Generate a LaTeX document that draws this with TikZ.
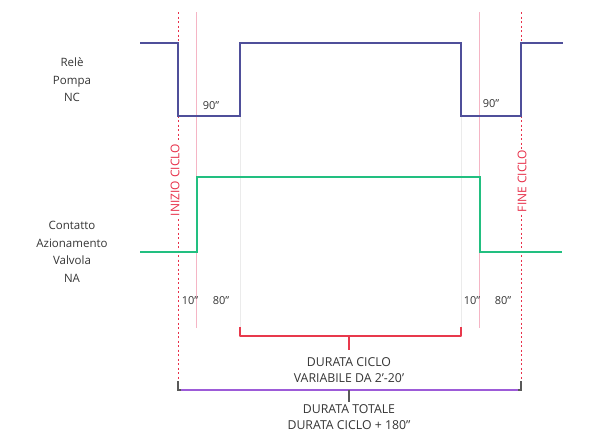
\documentclass[tikz,border=0pt]{standalone}
\usepackage{fontspec}
\setmainfont{Open Sans}
\definecolor{relay}{HTML}{4F4F9A}
\definecolor{valve}{HTML}{22BF80}
\definecolor{redb}{HTML}{E8394C}
\definecolor{purp}{HTML}{9D5BD8}
\definecolor{reddot}{HTML}{E8304A}
\definecolor{pinkl}{HTML}{F5B5C5}
\definecolor{txt}{HTML}{353535}
\begin{document}
\begin{tikzpicture}[x=1pt,y=-1pt,
  sig/.style={line width=1.3pt,color=relay},
  valv/.style={line width=2.2pt,color=valve},
  mark line/.style={reddot,line width=1pt,dash pattern=on 2pt off 2.5pt},
  guide/.style={pinkl,line width=0.8pt},
  faint/.style={black!8,line width=0.6pt},
  lbl/.style={font=\fontsize{11.5}{17.5}\selectfont,text=txt,align=center},
  small/.style={font=\fontsize{11}{12}\selectfont,text=txt},
  vlbl/.style={font=\fontsize{12}{13}\selectfont,text=reddot,rotate=90,fill=white,inner sep=1pt},
  bracketred/.style={redb,line width=2.2pt},
  bracketpur/.style={purp,line width=2.2pt},
  tick/.style={black!65,line width=1.2pt},
  btxt/.style={font=\fontsize{12.3}{16}\selectfont,text=txt,align=center}]
\useasboundingbox (0,0) rectangle (599,434);
% guide lines
\coordinate (g1t) at (196,12); \coordinate (g1b) at (196,328);
\coordinate (g2t) at (479,12); \coordinate (g2b) at (479,328);
\coordinate (f1t) at (240,43); \coordinate (f1b) at (240,330);
\coordinate (f2t) at (461,43); \coordinate (f2b) at (461,330);
\draw[faint] (f1t) -- (f1b);
\draw[faint] (f2t) -- (f2b);
\draw[guide] (g1t) -- (g1b);
\draw[guide] (g2t) -- (g2b);
% red dotted markers
\coordinate (m1t) at (178,12); \coordinate (m1b) at (178,390);
\coordinate (m2t) at (521,12); \coordinate (m2b) at (521,390);
\draw[mark line] (m1t) -- (m1b);
\draw[mark line] (m2t) -- (m2b);
% relay signal
\coordinate (r0) at (140,43);
\coordinate (r1) at (178,43);
\coordinate (r2) at (178,116);
\coordinate (r3) at (240,116);
\coordinate (r4) at (240,43);
\coordinate (r5) at (461,43);
\coordinate (r6) at (461,116);
\coordinate (r7) at (521,116);
\coordinate (r8) at (521,43);
\coordinate (r9) at (563,43);
\draw[sig] (r0) -- (r1) -- (r2) -- (r3) -- (r4) -- (r5) -- (r6) -- (r7) -- (r8) -- (r9);
% valve signal
\coordinate (v0) at (140,252);
\coordinate (v1) at (197,252);
\coordinate (v2) at (197,177);
\coordinate (v3) at (480,177);
\coordinate (v4) at (480,252);
\coordinate (v5) at (562,252);
\draw[valv] (v0) -- (v1) -- (v2) -- (v3) -- (v4) -- (v5);
% labels
\node[lbl] (relay) at (72,80) {Relè\\Pompa\\NC};
\node[lbl] (valve) at (72,252) {Contatto\\Azionamento\\Valvola\\NA};
\node[small] (t90a) at (211,106) {90''};
\node[small] (t90b) at (491,104) {90''};
\node[small] (t10a) at (190,301) {10''};
\node[small] (t80a) at (221,301) {80''};
\node[small] (t10b) at (472,301) {10''};
\node[small] (t80b) at (503,301) {80''};
\node[vlbl] (inizio) at (175,180) {INIZIO CICLO};
\node[vlbl] (fine) at (522,181) {FINE CICLO};
% red bracket
\coordinate (b1a) at (240,327); \coordinate (b1b) at (240,336);
\coordinate (b1c) at (461,336); \coordinate (b1d) at (461,327);
\coordinate (b1m) at (349,336); \coordinate (b1n) at (349,350);
\draw[bracketred,line join=round] (b1a) -- (b1b) -- (b1c) -- (b1d);
\draw[redb,line width=1.6pt] (b1m) -- (b1n);
\node[btxt] (dc) at (349,370) {DURATA CICLO\\VARIABILE DA 2'-20'};
% purple bracket
\coordinate (b2a) at (178,381); \coordinate (b2b) at (178,390);
\coordinate (b2c) at (521,390); \coordinate (b2d) at (521,381);
\coordinate (b2m) at (349,390); \coordinate (b2n) at (349,402);
\draw[bracketpur] (b2b) -- (b2c);
\draw[tick] (b2a) -- (b2b) -- ++(3,0);
\draw[tick] (b2d) -- (b2c) -- ++(-3,0);
\draw[tick] (b2m) -- (b2n);
\node[btxt] (dt) at (349,417) {DURATA TOTALE\\DURATA CICLO + 180''};
\end{tikzpicture}
\end{document}
